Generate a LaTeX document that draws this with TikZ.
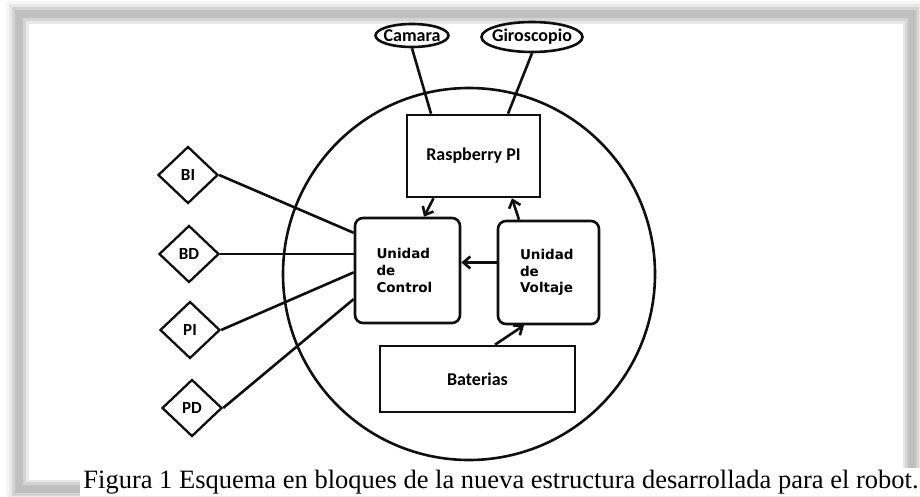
\documentclass[tikz,border=0pt]{standalone}
\usepackage{fontspec}
\setmainfont{Liberation Serif}
\newfontfamily\calfont{Carlito}
\newfontfamily\verfont{DejaVu Sans}
\usepackage{xcolor}
\usepackage{tikz}
\usetikzlibrary{shapes.geometric, arrows.meta, positioning, calc}
\definecolor{inkdark}{RGB}{15,15,15}
\definecolor{shadowgray}{RGB}{175,175,175}
\tikzset{
  blockbox/.style={rectangle, draw=inkdark, line width=2.6pt,
    font=\calfont\bfseries\fontsize{18}{20}\selectfont, inner sep=0pt},
  unitbox/.style={rectangle, draw=inkdark, line width=2.6pt, rounded corners=8pt,
    font=\verfont\bfseries\fontsize{13.5}{16.7}\selectfont, align=left, inner sep=0pt},
  sensor/.style={ellipse, draw=inkdark, line width=2.6pt, inner xsep=-5pt, inner ysep=1pt,
    font=\calfont\bfseries\fontsize{18}{20}\selectfont},
  motor/.style={diamond, draw=inkdark, line width=2.3pt, inner sep=0pt,
    minimum width=60pt, minimum height=57pt,
    font=\calfont\bfseries\fontsize{17}{19}\selectfont},
  link/.style={line width=2.6pt, color=inkdark},
  arr/.style={-{Straight Barb[length=7pt, width=12pt]}, line width=2.6pt, color=inkdark}
}
\begin{document}
\begin{tikzpicture}[x=1pt, y=-1pt]
  \useasboundingbox (0,0) rectangle (920,497);

  % soft frame
  \foreach \w/\o in {26/0.1, 20/0.2, 14/0.35, 8/0.55}
    \draw[shadowgray, line width=\w pt, opacity=\o] (19,14) rectangle (912,489);
  \fill[white] (29,24) rectangle (903,480);

  % robot body
  \node[circle, draw=inkdark, line width=2.6pt, minimum size=372pt, inner sep=0pt] (body) at (469,274) {};

  % blocks
  \node[blockbox, minimum width=133pt, minimum height=82pt] (raspi) at (473.5,156) {Raspberry PI};
  \node[unitbox, minimum width=105pt, minimum height=105pt, text width=62pt] (control) at (407.5,270.5) {Unidad\\de\\Control};
  \node[unitbox, minimum width=101pt, minimum height=103pt, text width=57pt] (voltaje) at (548.5,272.5) {Unidad\\de\\Voltaje};
  \node[blockbox, minimum width=195pt, minimum height=66pt] (baterias) at (477.5,379) {Baterias};

  % sensors
  \node[sensor, minimum width=73pt, minimum height=23pt] (camara) at (412,35.5) {Camara};
  \node[sensor, minimum width=101pt, minimum height=30pt] (giro) at (532,37) {Giroscopio};

  % motors
  \node[motor] (bi) at (188,175) {BI};
  \node[motor] (bd) at (189,254) {BD};
  \node[motor] (pi) at (190,330) {PI};
  \node[motor] (pd) at (192,408) {PD};

  % connections
  \draw[link] (camara.south) -- ($(raspi.north)+(-42.5,0)$);
  \draw[link] (giro.south) -- ($(raspi.north)+(34.5,0)$);
  \draw[link] (bi.east) -- (control.145);
  \draw[link] (bd.east) -- (bd.east -| control.west);
  \draw[link] (pi.east) -- (control.182);
  \draw[link] (pd.east) -- (control.208);

  \draw[arr] ($(raspi.south)+(-40,0)$) -- ($(control.north)+(16.5,0)$);
  \draw[arr] ($(voltaje.north)+(-29.5,0)$) -- ($(raspi.south)+(38.5,0)$);
  \draw[arr] ($(voltaje.west)+(0,-10)$) coordinate (vl) -- (vl -| control.east);
  \draw[arr] ($(baterias.north)+(17.5,0)$) -- ($(voltaje.south)+(-24.5,0)$);

  % caption
  \node[fill=white, inner xsep=3pt, inner ysep=2pt, font=\fontsize{26.5}{28}\selectfont] (caption) at (501,482)
    {Figura 1 Esquema en bloques de la nueva estructura desarrollada para el robot.};
\end{tikzpicture}
\end{document}
